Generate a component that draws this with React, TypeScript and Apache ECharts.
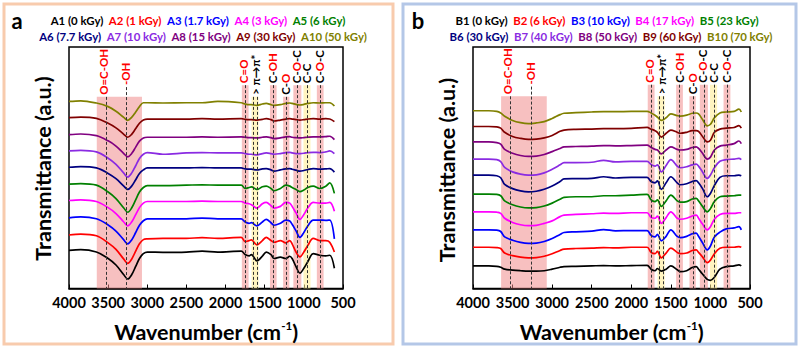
import React, { useEffect, useRef } from 'react';
import * as echarts from 'echarts';

// Wavenumber grids (cm^-1)
const wnA = [4000, 3850, 3650, 3500, 3400, 3300, 3250, 3200, 3150, 3100, 3050, 3000, 2800, 2500, 2300, 2100, 1800, 1750, 1700, 1670, 1600, 1530, 1480, 1420, 1380, 1300, 1230, 1180, 1150, 1100, 1050, 1000, 950, 880, 800, 720, 670, 610];
const wnB = [4000, 3800, 3700, 3650, 3600, 3500, 3400, 3300, 3200, 3100, 3000, 2900, 2850, 2700, 2500, 2350, 2200, 2000, 1800, 1750, 1700, 1670, 1620, 1560, 1500, 1420, 1380, 1300, 1230, 1180, 1150, 1100, 1040, 1000, 950, 880, 800, 700, 640, 610];

// Panel a transmittance (a.u., stacked)
const A1 = [39.0, 39.7, 37.3, 30.7, 24.0, 14.0, 9.7, 14.0, 22.3, 30.7, 35.7, 37.3, 37.0, 37.3, 38.3, 37.3, 38.3, 34.7, 33.3, 34.7, 28.3, 33.0, 37.3, 34.7, 30.7, 32.0, 30.7, 33.0, 30.7, 22.3, 15.7, 20.7, 27.3, 35.7, 34.0, 33.3, 34.0, 20.7];
const A2 = [54.7, 55.7, 54.0, 46.7, 40.0, 30.0, 25.7, 30.0, 38.0, 45.7, 50.0, 50.7, 51.3, 51.3, 52.0, 51.3, 52.3, 48.0, 49.0, 49.7, 44.7, 49.0, 52.3, 49.0, 47.3, 49.0, 46.7, 49.0, 45.7, 37.3, 32.3, 37.3, 44.0, 51.3, 49.0, 49.0, 47.3, 37.3];
const A3 = [72.3, 73.3, 71.3, 65.0, 58.7, 49.7, 45.7, 49.7, 57.0, 64.7, 69.3, 71.3, 71.3, 71.3, 72.0, 71.3, 71.3, 68.0, 66.7, 67.3, 64.0, 68.0, 70.7, 67.3, 64.7, 66.7, 70.0, 69.0, 65.7, 59.0, 52.3, 57.3, 64.0, 70.0, 70.0, 69.7, 70.0, 50.7];
const A4 = [90.0, 90.7, 89.0, 82.7, 76.7, 68.0, 64.0, 68.0, 75.3, 82.7, 87.3, 89.0, 89.0, 89.0, 89.3, 89.0, 89.0, 87.3, 86.7, 85.7, 82.3, 86.7, 88.0, 84.7, 82.3, 84.0, 88.0, 87.3, 84.0, 77.3, 70.7, 75.7, 82.3, 88.0, 87.3, 87.3, 88.0, 79.0];
const A5 = [106.7, 107.3, 105.7, 98.7, 92.0, 82.3, 78.0, 82.3, 90.3, 98.7, 103.3, 105.3, 105.3, 105.7, 106.0, 105.7, 105.7, 102.3, 103.3, 104.0, 101.3, 104.0, 104.7, 102.3, 100.0, 102.3, 105.7, 104.7, 103.3, 101.3, 99.0, 100.7, 103.3, 104.7, 102.3, 104.7, 108.0, 97.3];
const A6 = [124.0, 124.7, 123.3, 117.7, 112.3, 104.7, 101.3, 104.7, 111.0, 117.7, 121.3, 123.3, 123.3, 123.3, 123.7, 123.3, 123.3, 122.3, 122.0, 122.0, 121.3, 122.3, 122.7, 121.3, 120.0, 121.3, 122.3, 122.7, 122.0, 121.0, 120.0, 120.7, 121.7, 122.7, 122.0, 122.3, 122.7, 119.0];
const A7 = [140.7, 141.3, 139.7, 133.3, 127.0, 118.0, 114.0, 118.0, 125.3, 133.0, 137.3, 139.0, 137.3, 138.7, 139.0, 138.7, 138.7, 138.0, 137.3, 137.3, 136.7, 138.0, 138.7, 138.0, 137.3, 138.0, 139.0, 139.3, 138.7, 138.0, 138.0, 138.3, 139.0, 139.3, 139.0, 139.7, 140.7, 138.0];
const A8 = [157.3, 158.0, 156.3, 151.0, 145.7, 138.0, 134.7, 138.0, 144.3, 150.7, 154.0, 154.7, 154.7, 154.7, 155.0, 154.7, 155.0, 154.7, 154.3, 154.3, 154.0, 154.7, 155.0, 154.3, 153.3, 154.0, 155.0, 155.3, 154.7, 154.3, 154.0, 154.3, 154.7, 155.0, 155.0, 155.3, 155.7, 152.3];
const A9 = [174.7, 175.3, 174.0, 169.0, 164.3, 157.7, 154.7, 157.7, 163.3, 169.0, 172.3, 173.3, 173.3, 173.3, 173.7, 173.3, 173.7, 173.0, 172.7, 172.7, 172.3, 173.0, 173.7, 172.7, 171.3, 172.3, 173.3, 173.7, 173.3, 172.7, 172.3, 172.7, 173.3, 173.7, 173.3, 173.7, 173.3, 170.7];
const A10 = [191.3, 192.0, 189.7, 186.0, 181.3, 175.0, 172.0, 175.0, 180.3, 186.0, 190.0, 190.0, 189.7, 190.0, 190.0, 191.3, 190.0, 188.7, 188.0, 188.0, 187.3, 188.7, 189.3, 188.0, 187.3, 188.0, 189.3, 189.7, 189.3, 188.3, 187.7, 188.3, 189.3, 190.0, 189.7, 190.0, 190.0, 186.7];

// Panel b transmittance (a.u., stacked)
const B1 = [23.4, 23.4, 23.0, 22.0, 20.0, 19.0, 18.4, 18.0, 18.0, 18.4, 20.0, 22.0, 22.7, 23.0, 23.4, 23.7, 23.4, 23.7, 24.0, 20.0, 18.4, 20.7, 18.0, 20.0, 23.4, 19.4, 17.4, 18.4, 21.7, 22.7, 20.0, 15.0, 9.4, 8.4, 11.7, 20.0, 22.7, 23.4, 24.4, 23.4];
const B2 = [42.7, 42.7, 42.4, 41.4, 36.7, 34.0, 32.4, 31.7, 32.0, 33.4, 36.0, 39.4, 40.7, 41.4, 41.7, 42.4, 42.0, 42.7, 42.7, 37.4, 36.0, 38.4, 31.7, 36.7, 41.7, 37.4, 36.0, 36.7, 39.4, 40.0, 37.4, 32.7, 26.7, 29.4, 36.0, 41.7, 42.7, 42.7, 43.4, 42.7];
const B3 = [60.7, 60.7, 60.4, 59.0, 53.4, 50.0, 47.7, 46.7, 47.0, 48.7, 51.7, 56.0, 58.0, 58.7, 59.4, 61.0, 59.7, 60.0, 60.0, 55.0, 53.4, 56.0, 49.4, 54.0, 60.7, 54.0, 52.7, 54.0, 56.7, 57.4, 54.0, 47.4, 40.0, 44.0, 53.4, 58.4, 61.7, 62.7, 64.0, 60.7];
const B4 = [79.4, 79.4, 79.0, 77.7, 72.7, 68.4, 66.0, 65.0, 65.4, 67.4, 70.0, 74.4, 76.0, 76.7, 77.4, 78.0, 77.7, 78.4, 78.4, 73.4, 72.7, 75.0, 67.4, 73.4, 79.4, 72.7, 71.7, 72.7, 75.0, 76.0, 72.7, 66.7, 60.7, 64.0, 71.7, 76.7, 77.7, 77.7, 78.4, 78.4];
const B5 = [97.7, 97.7, 97.4, 96.0, 90.7, 86.7, 84.4, 83.4, 83.7, 85.4, 88.4, 92.4, 94.4, 95.0, 95.0, 96.0, 96.0, 96.7, 97.4, 91.7, 90.0, 91.7, 85.0, 90.7, 96.7, 90.7, 89.4, 90.0, 92.7, 93.4, 90.7, 85.0, 79.4, 82.7, 90.0, 95.0, 95.7, 96.0, 96.7, 96.7];
const B6 = [117.4, 117.4, 116.7, 114.7, 107.7, 103.4, 101.0, 100.0, 100.7, 102.7, 106.0, 110.7, 113.4, 113.7, 114.0, 115.7, 114.4, 115.0, 115.0, 110.7, 109.4, 111.4, 102.7, 109.4, 115.7, 109.4, 107.4, 108.4, 110.7, 111.7, 109.4, 103.4, 95.0, 98.4, 106.7, 115.0, 116.7, 116.7, 117.4, 116.7];
const B7 = [134.0, 134.0, 133.4, 131.4, 125.4, 120.7, 118.4, 117.4, 117.7, 119.7, 123.4, 128.0, 130.4, 130.4, 130.7, 132.7, 131.0, 131.7, 131.7, 128.4, 126.7, 128.0, 120.7, 127.4, 133.4, 126.7, 125.0, 126.0, 128.0, 128.7, 126.7, 120.7, 114.0, 117.4, 125.0, 131.7, 133.4, 134.0, 134.7, 133.4];
const B8 = [151.7, 151.7, 151.0, 149.4, 144.0, 140.0, 137.7, 136.7, 137.0, 138.7, 141.7, 145.0, 146.7, 147.0, 147.4, 148.0, 147.7, 148.0, 148.4, 146.0, 144.0, 143.4, 139.4, 143.4, 146.7, 144.0, 143.4, 144.0, 146.0, 146.7, 145.0, 140.0, 134.0, 136.0, 143.4, 147.4, 148.4, 150.0, 152.7, 150.0];
const B9 = [167.7, 167.7, 167.4, 166.0, 161.7, 157.4, 155.4, 154.4, 154.7, 156.0, 158.4, 162.7, 164.0, 164.7, 165.0, 165.4, 165.4, 165.7, 166.7, 165.0, 163.4, 161.7, 156.7, 160.7, 164.0, 161.7, 160.7, 161.7, 163.4, 163.4, 162.7, 157.4, 151.7, 153.4, 161.7, 165.0, 166.0, 166.7, 168.7, 166.0];
const B10 = [184.0, 184.0, 183.4, 181.7, 178.4, 174.0, 171.7, 170.7, 171.4, 172.7, 176.0, 180.0, 181.4, 182.0, 182.7, 183.0, 183.0, 183.4, 183.4, 181.7, 179.4, 177.4, 174.0, 176.7, 180.7, 179.0, 178.4, 179.4, 181.4, 181.7, 180.7, 175.0, 168.4, 170.0, 176.7, 181.7, 182.7, 183.4, 185.7, 182.7];

const namesA = ['A1 (0 kGy)', 'A2 (1 kGy)', 'A3 (1.7 kGy)', 'A4 (3 kGy)', 'A5 (6 kGy)', 'A6 (7.7 kGy)', 'A7 (10 kGy)', 'A8 (15 kGy)', 'A9 (30 kGy)', 'A10 (50 kGy)'];
const namesB = ['B1 (0 kGy)', 'B2 (6 kGy)', 'B3 (10 kGy)', 'B4 (17 kGy)', 'B5 (23 kGy)', 'B6 (30 kGy)', 'B7 (40 kGy)', 'B8 (50 kGy)', 'B9 (60 kGy)', 'B10 (70 kGy)'];
const seriesA = [A1, A2, A3, A4, A5, A6, A7, A8, A9, A10];
const seriesB = [B1, B2, B3, B4, B5, B6, B7, B8, B9, B10];
const colors = ['#000000', '#ff0000', '#0000ff', '#ff00ff', '#008000', '#000080', '#8a2be2', '#800080', '#800000', '#808000'];

// Assignment bands (wavenumber range) and dashed reference lines
const bands = [
  { from: 3645, to: 3068, kind: 'pink', level: 'short' },
  { from: 1792, to: 1706, kind: 'pink', level: 'tall' },
  { from: 1668, to: 1578, kind: 'yellow', level: 'short' },
  { from: 1433, to: 1348, kind: 'pink', level: 'tall' },
  { from: 1265, to: 1185, kind: 'pink', level: 'short' },
  { from: 1134, to: 1032, kind: 'pink', level: 'tall' },
  { from: 1005, to: 915, kind: 'yellow', level: 'tall' },
  { from: 834, to: 748, kind: 'pink', level: 'tall' },
];
const lines = [
  { wn: 3530, level: 'short' },
  { wn: 3270, level: 'oh' },
  { wn: 1750, level: 'tall' },
  { wn: 1646, level: 'short' },
  { wn: 1597, level: 'short' },
  { wn: 1390, level: 'tall' },
  { wn: 1222, level: 'short' },
  { wn: 1084, level: 'tall' },
  { wn: 958, level: 'tall' },
  { wn: 792, level: 'tall' },
];
const peakLabels = [
  { wn: 3565, level: 'short', text: '{r|O=C-OH}' },
  { wn: 3275, level: 'oh', text: '{r|-OH}' },
  { wn: 1765, level: 'tall', text: '{r|C=O}' },
  { wn: 1622, level: 'short', text: '{k|> π→π*}' },
  { wn: 1395, level: 'tall', text: '{k|C-}{r|OH}' },
  { wn: 1232, level: 'short', text: '{k|C-}{r|O}' },
  { wn: 1095, level: 'tall', text: '{k|C-}{r|O}{k|-C}' },
  { wn: 960, level: 'tall', text: '{k|C-C}' },
  { wn: 800, level: 'tall', text: '{k|C-}{r|O}{k|-C}' },
];
const levelsA: Record<string, number> = { short: 196, tall: 208, oh: 206 };
const levelsB: Record<string, number> = { short: 199, tall: 211, oh: 209 };

const FONT = 'Lato, "Open Sans", sans-serif';
const grids = [
  { left: 69, top: 47, width: 274, height: 247 },
  { left: 473, top: 47, width: 277, height: 250 },
];

export default function App() {
  const ref = useRef<HTMLDivElement>(null);
  useEffect(() => {
    document.body.style.margin = '0';
    const chart = echarts.init(ref.current!, null, { renderer: 'svg' });
    const panels = [
      { wn: wnA, data: seriesA, names: namesA, levels: levelsA },
      { wn: wnB, data: seriesB, names: namesB, levels: levelsB },
    ];
    const series: any[] = [];
    panels.forEach((p, pi) => {
      series.push({
        type: 'line', xAxisIndex: pi, yAxisIndex: pi, data: [], silent: true, z: 1,
        markArea: {
          silent: true,
          data: bands.map((b) => [
            { xAxis: b.from, yAxis: 0, itemStyle: { color: b.kind === 'pink' ? 'rgba(240,140,140,0.55)' : 'rgba(255,236,150,0.6)' } },
            { xAxis: b.to, yAxis: p.levels[b.level] },
          ]),
        },
        markLine: {
          silent: true, symbol: ['none', 'none'], label: { show: false },
          lineStyle: { type: [3, 2], color: '#333', width: 1 },
          data: lines.map((l) => [{ coord: [l.wn, p.levels[l.level]] }, { coord: [l.wn, 0] }]),
        },
      });
      p.data.forEach((arr, i) => {
        series.push({
          type: 'line', name: p.names[i], xAxisIndex: pi, yAxisIndex: pi, z: 3,
          data: p.wn.map((w, j) => [w, arr[j]]),
          showSymbol: false, smooth: 0.35,
          lineStyle: { color: colors[i], width: 1.7 },
          itemStyle: { color: colors[i] },
        });
      });
    });
    const option: any = {
      animation: false,
      grid: grids.map((g) => ({ ...g, show: true, borderColor: '#000', borderWidth: 1.5, backgroundColor: 'transparent' })),
      xAxis: grids.map((_, i) => ({
        type: 'value', gridIndex: i, min: 500, max: 4000, interval: 500, inverse: true,
        axisLine: { show: true, lineStyle: { color: '#000', width: 1.5 } },
        axisTick: { show: true, inside: true, length: 4, lineStyle: { color: '#000' } },
        axisLabel: {
          color: '#000', fontWeight: 'bold', fontSize: 14.5, fontFamily: FONT, margin: 6,
          showMinLabel: true, showMaxLabel: true, formatter: (v: number) => String(v),
        },
        splitLine: { show: false },
        name: '{m|Wavenumber (cm}{s|-1}{m|)}',
        nameLocation: 'middle', nameGap: 31,
        nameTextStyle: {
          rich: {
            m: { fontSize: 21.5, fontWeight: 'bold', fontFamily: FONT, color: '#000' },
            s: { fontSize: 11.5, fontWeight: 'bold', fontFamily: FONT, color: '#000', padding: [0, 0, 13, 0] },
          },
        },
      })),
      yAxis: grids.map((g, i) => ({ type: 'value', gridIndex: i, min: 0, max: g.height, show: false })),
      series,
    };
    chart.setOption(option);

    const graphic: any[] = [];
    graphic.push({ type: 'rect', shape: { x: 4, y: 4, width: 389, height: 340 }, style: { fill: 'none', stroke: '#f8cbad', lineWidth: 3 } });
    graphic.push({ type: 'rect', shape: { x: 403, y: 4, width: 393, height: 340 }, style: { fill: 'none', stroke: '#b4c7e7', lineWidth: 3 } });
    const panelLetters = ['a', 'b'];
    const LF = 11.4;
    const richLegend: any = {};
    colors.forEach((c, i) => { richLegend['c' + i] = { fill: c, fontSize: LF, fontWeight: 'bold', fontFamily: FONT }; });
    const legendCenters = [[198, 203], [607, 611]];
    panels.forEach((p, pi) => {
      const g = grids[pi];
      graphic.push({ type: 'text', x: pi === 0 ? 17 : 418, y: 20, style: { text: panelLetters[pi], font: `bold 22px ${FONT}`, fill: '#000', align: 'center', verticalAlign: 'middle' } });
      const row1 = p.names.slice(0, 5).map((n, i) => `{c${i}|${n}}`).join('  ');
      const row2 = p.names.slice(5).map((n, i) => `{c${i + 5}|${n}}`).join('  ');
      graphic.push({ type: 'text', x: legendCenters[pi][0], y: 20, style: { text: row1, rich: richLegend, align: 'center', verticalAlign: 'middle', font: `bold ${LF}px ${FONT}` } });
      graphic.push({ type: 'text', x: legendCenters[pi][1], y: 36, style: { text: row2, rich: richLegend, align: 'center', verticalAlign: 'middle', font: `bold ${LF}px ${FONT}` } });
      graphic.push({ type: 'text', x: g.left - 26, y: g.top + g.height / 2 - 2, rotation: Math.PI / 2, style: { text: 'Transmittance (a.u.)', font: `bold 21.5px ${FONT}`, fill: '#000', align: 'center', verticalAlign: 'middle' } });
      peakLabels.forEach((l) => {
        const pt = chart.convertToPixel({ xAxisIndex: pi, yAxisIndex: pi } as any, [l.wn, p.levels[l.level]]) as number[];
        graphic.push({
          type: 'text', x: pt[0], y: pt[1] - 2, rotation: Math.PI / 2,
          style: {
            text: l.text, align: 'left', verticalAlign: 'middle', font: `bold 11.5px ${FONT}`,
            rich: {
              r: { fill: '#ff0000', font: `bold 11.5px ${FONT}` },
              k: { fill: '#000000', font: `bold 11.5px ${FONT}` },
            },
          },
        });
      });
    });
    chart.setOption({ graphic });
    return () => chart.dispose();
  }, []);
  return <div ref={ref} style={{ width: 800, height: 348 }} />;
}
